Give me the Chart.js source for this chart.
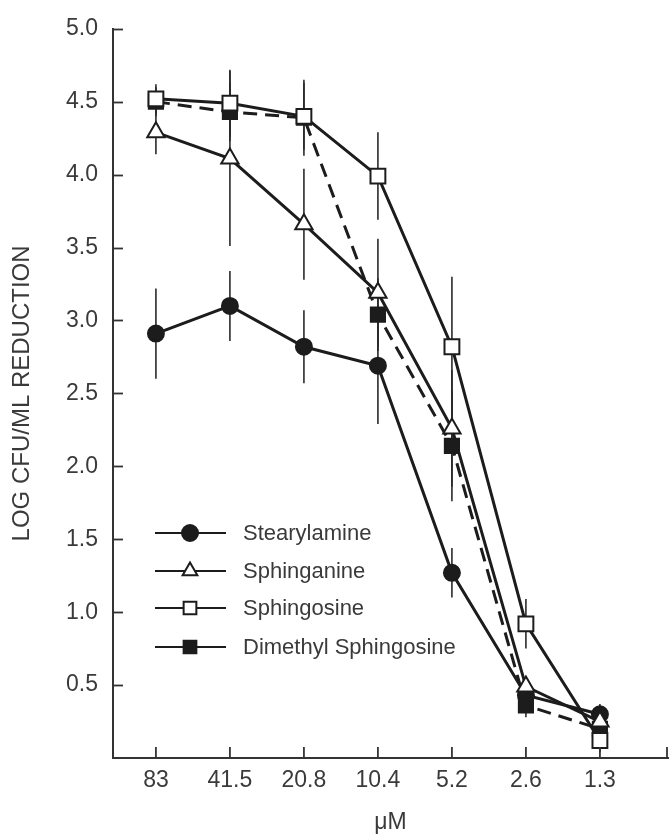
<!DOCTYPE html>
<html>
<head>
<meta charset="utf-8">
<script src="https://cdn.jsdelivr.net/npm/chart.js@4.4.1/dist/chart.umd.min.js"></script>
<style>
  html, body { margin: 0; padding: 0; background: #fff; }
  #wrap { width: 669px; height: 840px; }
</style>
</head>
<body>
<div id="wrap"><canvas id="chart" width="669" height="840"></canvas></div>
<script>
// concentrations on the x axis (uM), left to right
const concentrations = ['83', '41.5', '20.8', '10.4', '5.2', '2.6', '1.3'];
const yTickValues = [0.5, 1.0, 1.5, 2.0, 2.5, 3.0, 3.5, 4.0, 4.5, 5.0];

const seriesNames = ['Stearylamine', 'Sphinganine', 'Sphingosine', 'Dimethyl Sphingosine'];

// log CFU/ml reduction
const stearylamine    = [2.91, 3.10, 2.82, 2.69, 1.27, 0.43, 0.30];
const stearylamineErr = [0.31, 0.24, 0.25, 0.40, 0.17, 0.06, 0.07];
const sphinganine     = [4.29, 4.11, 3.66, 3.19, 2.26, 0.49, 0.25];
const sphinganineErr  = [0.15, 0.60, 0.38, 0.37, 0.40, 0.07, 0.08];
const sphingosine     = [4.52, 4.49, 4.40, 3.99, 2.82, 0.92, 0.12];
const sphingosineErr  = [0.10, 0.23, 0.23, 0.30, 0.48, 0.17, 0.08];
const dimethyl        = [4.50, 4.43, 4.39, 3.04, 2.14, 0.36, 0.20];
const dimethylErr     = [0.10, 0.20, 0.26, 0.25, 0.38, 0.08, 0.08];

const ink = '#1c1c1c';
const textColor = '#3a3a3a';
const fontFamily = '"Liberation Sans", Arial, Helvetica, sans-serif';

const toPoints = (vals) => vals.map((v, i) => ({ x: i, y: v }));

const datasets = [
  {
    label: seriesNames[0], data: toPoints(stearylamine), err: stearylamineErr,
    pointStyle: 'circle', pointRadius: 8, pointBackgroundColor: ink, pointBorderColor: ink,
    legendRadius: 8, order: 3
  },
  {
    label: seriesNames[1], data: toPoints(sphinganine), err: sphinganineErr,
    pointStyle: 'triangle', pointRadius: 10, pointBackgroundColor: '#fff', pointBorderColor: ink,
    legendRadius: 8.5, order: 2
  },
  {
    label: seriesNames[2], data: toPoints(sphingosine), err: sphingosineErr,
    pointStyle: 'rect', pointRadius: 10.5, pointBackgroundColor: '#fff', pointBorderColor: ink,
    legendRadius: 9, order: 1
  },
  {
    label: seriesNames[3], data: toPoints(dimethyl), err: dimethylErr,
    pointStyle: 'rect', pointRadius: 10, pointBackgroundColor: ink, pointBorderColor: ink,
    borderDash: [14, 8], legendRadius: 9, order: 4
  }
].map(ds => Object.assign({
  borderColor: ink, borderWidth: 3, pointBorderWidth: 2, pointHoverRadius: ds.pointRadius,
  fill: false, tension: 0, clip: false
}, ds));

// error bars under the markers
const errorBars = {
  id: 'errorBars',
  beforeDatasetsDraw(chart) {
    const { ctx, scales: { x, y } } = chart;
    ctx.save();
    ctx.strokeStyle = '#2a2a2a';
    ctx.lineWidth = 1.6;
    chart.data.datasets.forEach(ds => {
      ds.data.forEach((p, i) => {
        const e = ds.err[i];
        const px = x.getPixelForValue(p.x);
        ctx.beginPath();
        ctx.moveTo(px, y.getPixelForValue(p.y + e));
        ctx.lineTo(px, y.getPixelForValue(p.y - e));
        ctx.stroke();
      });
    });
    ctx.restore();
  }
};

// inward tick marks on both axes
const innerTicks = {
  id: 'innerTicks',
  afterDraw(chart) {
    const { ctx, scales: { x, y } } = chart;
    ctx.save();
    ctx.strokeStyle = '#333';
    ctx.lineWidth = 1.8;
    yTickValues.forEach(v => {
      const py = Math.round(y.getPixelForValue(v)) + 0.5;
      ctx.beginPath();
      ctx.moveTo(x.left, py);
      ctx.lineTo(x.left + 10, py);
      ctx.stroke();
    });
    const xs = concentrations.map((c, i) => x.getPixelForValue(i));
    xs.push(x.right - 1);
    xs.forEach(px => {
      ctx.beginPath();
      ctx.moveTo(px, y.bottom);
      ctx.lineTo(px, y.bottom - 11);
      ctx.stroke();
    });
    ctx.restore();
  }
};

// legend box inside the plot, lower left
const insideLegend = {
  id: 'insideLegend',
  afterDatasetsDraw(chart) {
    const ctx = chart.ctx;
    const x0 = 155, x1 = 226, mx = 190, tx = 243;
    const rows = [533, 571, 608, 647];
    ctx.save();
    chart.data.datasets.forEach((ds, i) => {
      const ry = rows[i];
      ctx.strokeStyle = ink;
      ctx.lineWidth = 2;
      ctx.setLineDash([]);
      ctx.beginPath();
      ctx.moveTo(x0, ry);
      ctx.lineTo(x1, ry);
      ctx.stroke();
      ctx.fillStyle = ds.pointBackgroundColor;
      ctx.strokeStyle = ds.pointBorderColor;
      ctx.lineWidth = 2;
      Chart.helpers.drawPoint(ctx, {
        pointStyle: ds.pointStyle, radius: ds.legendRadius, rotation: 0, borderWidth: 2
      }, mx, ry);
      ctx.fillStyle = textColor;
      ctx.font = '22px ' + fontFamily;
      ctx.textBaseline = 'middle';
      ctx.textAlign = 'left';
      ctx.fillText(ds.label, tx, ry + 1);
    });
    ctx.restore();
  }
};

new Chart(document.getElementById('chart'), {
  type: 'line',
  data: { datasets },
  options: {
    responsive: false,
    animation: false,
    devicePixelRatio: 1,
    layout: { autoPadding: false, padding: { top: 24, right: 1, left: 0, bottom: 0 } },
    plugins: {
      legend: { display: false },
      tooltip: { enabled: false }
    },
    scales: {
      x: {
        type: 'linear',
        min: -0.58,
        max: 6.92,
        afterBuildTicks(scale) {
          scale.ticks = concentrations.map((c, i) => ({ value: i }));
        },
        afterFit(scale) {
          scale.height = 82;
          scale.paddingLeft = 0;
          scale.paddingRight = 0;
        },
        grid: { display: false, drawTicks: false },
        border: { display: true, color: '#333', width: 2 },
        ticks: {
          autoSkip: false,
          maxRotation: 0,
          padding: 9,
          color: textColor,
          font: { family: fontFamily, size: 23 },
          callback: (v) => concentrations[v]
        },
        title: {
          display: true,
          text: 'μM',
          color: textColor,
          padding: 4,
          font: { family: fontFamily, size: 23 }
        }
      },
      y: {
        type: 'linear',
        min: 0,
        max: 5,
        afterBuildTicks(scale) {
          scale.ticks = yTickValues.map(v => ({ value: v }));
        },
        afterFit(scale) { scale.width = 113; },
        grid: { display: false, drawTicks: false },
        border: { display: true, color: '#333', width: 2 },
        ticks: {
          padding: 15,
          color: textColor,
          font: { family: fontFamily, size: 23 },
          callback: (v) => v.toFixed(1)
        },
        title: {
          display: true,
          text: 'LOG CFU/ML REDUCTION',
          color: textColor,
          padding: 8,
          font: { family: fontFamily, size: 24 }
        }
      }
    }
  },
  plugins: [errorBars, innerTicks, insideLegend]
});
</script>
</body>
</html>
